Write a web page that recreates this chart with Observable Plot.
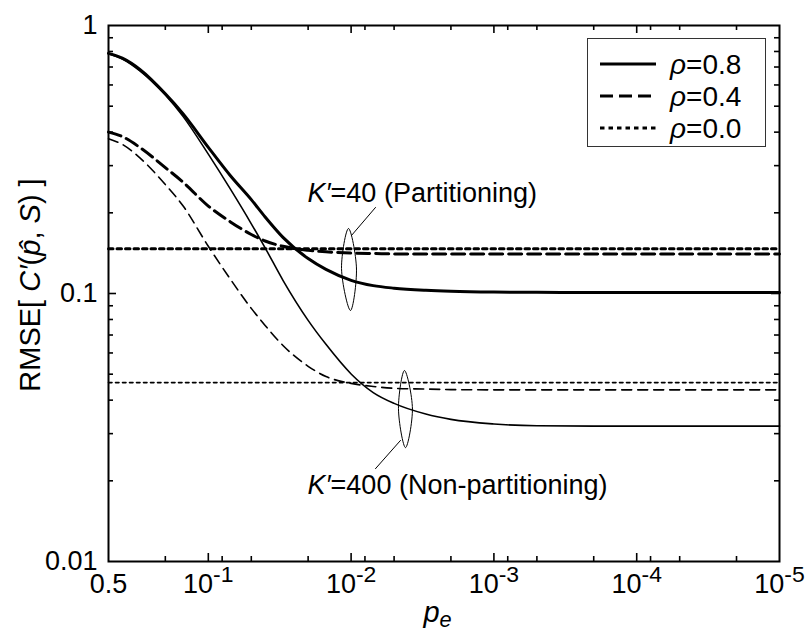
<!DOCTYPE html>
<html><head><meta charset="utf-8">
<script src="https://cdn.jsdelivr.net/npm/d3@7"></script>
<script src="https://cdn.jsdelivr.net/npm/@observablehq/plot@0.6"></script>
<style>
body{margin:0;background:#fff;}
#wrap{position:relative;width:812px;height:640px;font-family:"Liberation Sans",Arial,Helvetica,sans-serif;}
#legend{position:absolute;left:587px;top:38px;width:177px;height:107px;border:1.3px solid #333;background:#fff;}
</style></head><body><div id="wrap"><div id="legend"></div></div>
<script>
// ---------- data ----------
const pe = [0.5, 0.4, 0.3, 0.2, 0.15, 0.1, 0.07, 0.05, 0.04, 0.03, 0.02, 0.015, 0.01, 0.007, 0.005, 0.003, 0.002, 0.001, 5e-4, 2e-4, 1e-4, 1e-5];
const rho08_K40  = [0.787, 0.755, 0.684, 0.556, 0.468, 0.351, 0.275, 0.224, 0.193, 0.162, 0.135, 0.123, 0.112, 0.107, 0.1047, 0.1028, 0.1019, 0.1012, 0.101, 0.1008, 0.1008, 0.1008];
const rho08_K400 = [0.785, 0.75, 0.676, 0.55, 0.457, 0.331, 0.245, 0.182, 0.148, 0.112, 0.0794, 0.0646, 0.0501, 0.0427, 0.0389, 0.0355, 0.0339, 0.0326, 0.0321, 0.032, 0.032, 0.032];
const rho04_K40  = [0.40, 0.385, 0.35, 0.295, 0.26, 0.212, 0.185, 0.166, 0.157, 0.15, 0.145, 0.143, 0.1415, 0.141, 0.1405, 0.1405, 0.1405, 0.1405, 0.1405, 0.1405, 0.1405, 0.1405];
const rho04_K400 = [0.378, 0.36, 0.32, 0.255, 0.212, 0.15, 0.113, 0.088, 0.076, 0.064, 0.0535, 0.049, 0.0462, 0.045, 0.0443, 0.044, 0.0438, 0.0437, 0.0437, 0.0437, 0.0437, 0.0437];
const peFlat = [0.5, 1e-5];
const rho00_K40  = [0.147, 0.147];
const rho00_K400 = [0.0465, 0.0465];

const xTickValues = [0.5, 0.1, 0.01, 0.001, 1e-4, 1e-5];
const xTickText = ["0.5", "10^-1", "10^-2", "10^-3", "10^-4", "10^-5"];
const xMajor = [0.1, 0.01, 0.001, 1e-4];
const xMinor = [0.2, 0.08, 0.05, 0.02, 0.008, 0.005, 0.002, 8e-4, 5e-4, 2e-4, 8e-5, 5e-5, 2e-5];
const yTickValues = [1, 0.1, 0.01];
const yTickText = ["1", "0.1", "0.01"];
const yMajor = [0.1];
const yMinor = [0.9, 0.8, 0.7, 0.6, 0.5, 0.4, 0.3, 0.2, 0.09, 0.08, 0.07, 0.06, 0.05, 0.04, 0.03, 0.02];

const legendLabels = ["0.8", "0.4", "0.0"];

// annotation anchors (data coordinates)
const annotLabels = [
  {pe: 0.0202, v: 0.236, t: "K′=40 (Partitioning)"},
  {pe: 0.0202, v: 0.0192, t: "K′=400 (Non-partitioning)"}
];
const leader40 = [{pe: 0.00675, v: 0.2094}, {pe: 0.00994, v: 0.1646}];
const leader400 = [{pe: 0.00675, v: 0.0222}, {pe: 0.00451, v: 0.0283}];
const loop40 = [{pe: 0.01043, v: 0.1748}, {pe: 0.00917, v: 0.124}, {pe: 0.0101, v: 0.0864}, {pe: 0.01167, v: 0.124}];
const loop400 = [{pe: 0.00423, v: 0.0516}, {pe: 0.00372, v: 0.0372}, {pe: 0.00416, v: 0.0266}, {pe: 0.00466, v: 0.0372}];

// ---------- build ----------
const W = 812, H = 640, mL = 108, mR = 33, mT = 25, mB = 79;
const plotW = W - mL - mR, plotH = H - mT - mB;
const FONT = "'Liberation Sans', Arial, Helvetica, sans-serif";

const series = [
  {x: pe, y: rho08_K40, w: 3, dash: null},
  {x: pe, y: rho08_K400, w: 1.6, dash: null},
  {x: pe, y: rho04_K40, w: 3, dash: "13,6"},
  {x: pe, y: rho04_K400, w: 1.6, dash: "10,6"},
  {x: peFlat, y: rho00_K40, w: 3, dash: "4.5,4"},
  {x: peFlat, y: rho00_K400, w: 1.6, dash: "3.5,3.5"}
];
const lineMarks = series.map(s => Plot.line(s.x.map((p, i) => ({pe: p, v: s.y[i]})), {
  x: "pe", y: "v", stroke: "black", strokeWidth: s.w,
  strokeDasharray: s.dash || undefined, curve: "monotone-x"
}));

const tickW = 1.6;
const chart = Plot.plot({
  width: W, height: H, marginLeft: mL, marginRight: mR, marginTop: mT, marginBottom: mB,
  x: {type: "log", domain: [0.5, 1e-5], axis: null},
  y: {type: "log", domain: [0.01, 1], axis: null},
  style: {fontFamily: FONT, background: "white", color: "black", overflow: "visible"},
  marks: [
    ...lineMarks,
    Plot.tickX(xMajor, {x: d => d, insetTop: plotH - 8, strokeWidth: tickW}),
    Plot.tickX(xMajor, {x: d => d, insetBottom: plotH - 8, strokeWidth: tickW}),
    Plot.tickX(xMinor, {x: d => d, insetTop: plotH - 5, strokeWidth: tickW}),
    Plot.tickX(xMinor, {x: d => d, insetBottom: plotH - 5, strokeWidth: tickW}),
    Plot.tickY(yMajor, {y: d => d, insetRight: plotW - 8, strokeWidth: tickW}),
    Plot.tickY(yMajor, {y: d => d, insetLeft: plotW - 8, strokeWidth: tickW}),
    Plot.tickY(yMinor, {y: d => d, insetRight: plotW - 5, strokeWidth: tickW}),
    Plot.tickY(yMinor, {y: d => d, insetLeft: plotW - 5, strokeWidth: tickW}),
    Plot.frame({stroke: "black", strokeWidth: 2}),
    // tick labels
    Plot.text(xTickValues, {x: d => d, frameAnchor: "bottom", lineAnchor: "top", dy: 12,
      fontSize: 27, text: (d, i) => xTickText[i], fill: "black"}),
    Plot.text(yTickValues, {y: d => d, frameAnchor: "left", textAnchor: "end", dx: -11,
      fontSize: 27, text: (d, i) => yTickText[i], fill: "black"}),
    // annotations
    Plot.line(leader40, {x: "pe", y: "v", stroke: "black", strokeWidth: 1}),
    Plot.line(leader400, {x: "pe", y: "v", stroke: "black", strokeWidth: 1}),
    Plot.line(loop40, {x: "pe", y: "v", stroke: "black", strokeWidth: 1, curve: "catmull-rom-closed"}),
    Plot.line(loop400, {x: "pe", y: "v", stroke: "black", strokeWidth: 1, curve: "catmull-rom-closed"}),
    Plot.text(annotLabels, {x: "pe", y: "v", text: "t", textAnchor: "start", fontSize: 27, fill: "black"})
  ]
});

const svg = d3.select(chart);
svg.selectAll("text").each(function() {
  const t = this.textContent;
  const sel = d3.select(this);
  if (t.startsWith("10^")) {
    const [base, exp] = t.split("^");
    sel.text(base);
    sel.append("tspan").attr("dy", "-0.45em").attr("font-size", "0.85em").text(exp);
  } else if (t.startsWith("K′")) {
    sel.text("");
    sel.append("tspan").attr("font-style", "italic").text("K′");
    sel.append("tspan").text(t.slice(2));
  }
});
// axis titles
const yl = svg.append("text")
  .attr("transform", `translate(30,${mT + plotH / 2 - 8}) rotate(-90)`)
  .attr("text-anchor", "middle").attr("dominant-baseline", "central")
  .attr("font-size", 29).attr("font-family", FONT).attr("fill", "black");
yl.append("tspan").text("RMSE[ ");
yl.append("tspan").attr("font-style", "italic").text("C′");
yl.append("tspan").text("(");
yl.append("tspan").attr("font-style", "italic").text("p\u0302");
yl.append("tspan").text(", ");
yl.append("tspan").attr("font-style", "italic").text("S");
yl.append("tspan").text(") ]");

const xl = svg.append("text")
  .attr("x", mL + plotW / 2 - 6).attr("y", 622)
  .attr("text-anchor", "middle")
  .attr("font-size", 29).attr("font-family", FONT).attr("fill", "black").attr("font-style", "italic");
xl.append("tspan").text("p");
xl.append("tspan").attr("font-size", "0.75em").attr("dy", "0.25em").text("e");

document.getElementById("wrap").prepend(chart);

// legend
const lg = d3.select("#legend").append("svg").attr("width", 177).attr("height", 107);
const legendDash = [null, "13,6", "4.5,4"];
legendLabels.forEach((lab, i) => {
  const cy = 25 + i * 32;
  lg.append("line").attr("x1", 12).attr("x2", 68).attr("y1", cy).attr("y2", cy)
    .attr("stroke", "black").attr("stroke-width", 3).attr("stroke-dasharray", legendDash[i]);
  const t = lg.append("text").attr("x", 82).attr("y", cy).attr("dominant-baseline", "central")
    .attr("font-size", 28).attr("font-family", FONT);
  t.append("tspan").attr("font-style", "italic").text("ρ");
  t.append("tspan").text("=" + lab);
});
</script>
</body></html>
